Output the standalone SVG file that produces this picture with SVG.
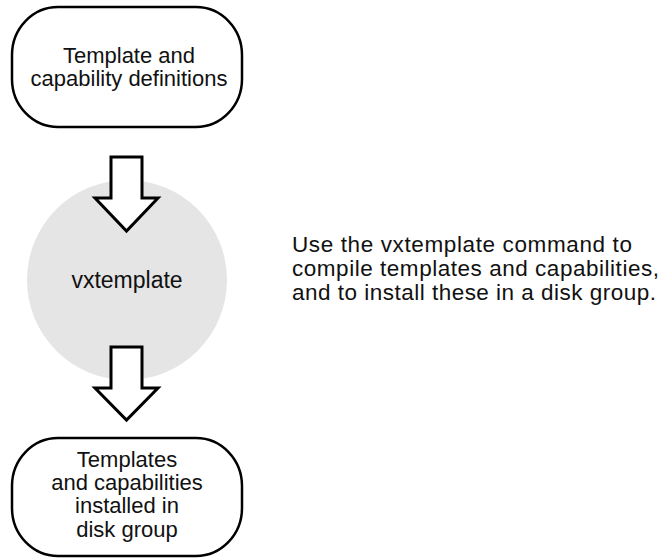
<svg xmlns="http://www.w3.org/2000/svg" width="664" height="558" viewBox="0 0 664 558">
<style>
.box{fill:#fff;stroke:#000;stroke-width:2.5}
.arrow{fill:#fff;stroke:#000;stroke-width:3;stroke-linejoin:miter}
.t{font-family:"Liberation Sans",Arial,Helvetica,sans-serif;font-size:22px;fill:#111}
.n{font-size:22.5px}
.v{font-size:23px}
.c{text-anchor:middle}
</style>
<rect width="664" height="558" fill="#fff"/>
<g id="process">
<circle cx="127" cy="280" r="100" fill="#e5e5e5"/>
<text class="t v c" x="127" y="288">vxtemplate</text>
</g>
<g id="definitions">
<rect class="box" x="12" y="7" width="230" height="120" rx="46" ry="48"/>
<text class="t c" x="129" y="63">Template and</text>
<text class="t c" x="129" y="86">capability definitions</text>
</g>
<g id="installed">
<rect class="box" x="12" y="438" width="230" height="118" rx="46" ry="48"/>
<text class="t c" x="127" y="467">Templates</text>
<text class="t c" x="127" y="490">and capabilities</text>
<text class="t c" x="127" y="513">installed in</text>
<text class="t c" x="127" y="537">disk group</text>
</g>
<g id="note">
<text class="t n" x="292" y="252" textLength="340" lengthAdjust="spacing">Use the vxtemplate command to</text>
<text class="t n" x="292" y="276" textLength="367" lengthAdjust="spacing">compile templates and capabilities,</text>
<text class="t n" x="292" y="300" textLength="364" lengthAdjust="spacing">and to install these in a disk group.</text>
</g>
<g id="connectors">
<path class="arrow" d="M111 157 H142 V198 H158 L126.5 231 L95 198 H111 Z"/>
<path class="arrow" d="M111 347 H142 V388 H158 L126.5 420 L95 388 H111 Z"/>
</g>
</svg>
